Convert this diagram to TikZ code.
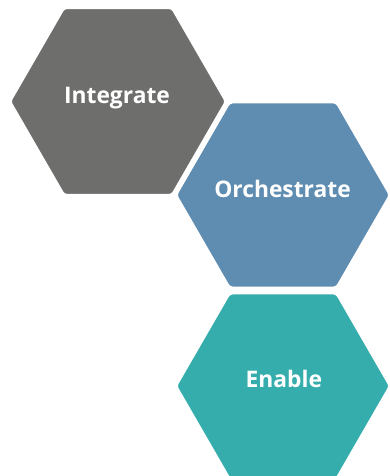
\documentclass[tikz,border=0pt]{standalone}
\usepackage{fontspec}
\setmainfont{Open Sans}
\definecolor{hexgray}{HTML}{6E6E6C}
\definecolor{hexblue}{HTML}{5F8CB1}
\definecolor{hexteal}{HTML}{35ADAC}
\tikzset{
  hex/.style={draw=white, line width=2.2pt, rounded corners=3pt},
  lbl/.style={text=white, font=\fontsize{22.8}{26}\selectfont\bfseries, inner sep=0pt, anchor=base}
}
\begin{document}
\begin{tikzpicture}[x=1pt,y=-1pt]
\useasboundingbox (0,0) rectangle (389,476);
\fill[white] (0,0) rectangle (389,476);
\coordinate (cg) at (118,101.5);
\coordinate (cb) at (283,195);
\coordinate (ct) at (283,386);
\draw[hex, fill=hexgray, shift={(cg)}] (0:108) -- (60:108) -- (120:108) -- (180:108) -- (240:108) -- (300:108) -- cycle;
\draw[hex, fill=hexteal, shift={(ct)}] (0:107) -- (60:107) -- (120:107) -- (180:107) -- (240:107) -- (300:107) -- cycle;
\draw[hex, fill=hexblue, shift={(cb)}] (0:107) -- (60:107) -- (120:107) -- (180:107) -- (240:107) -- (300:107) -- cycle;
\node[lbl] (integrate) at (117,103.3) {Integrate};
\node[lbl] (orchestrate) at (282.5,197) {Orchestrate};
\node[lbl] (enable) at (283.8,387.3) {Enable};
\end{tikzpicture}
\end{document}
